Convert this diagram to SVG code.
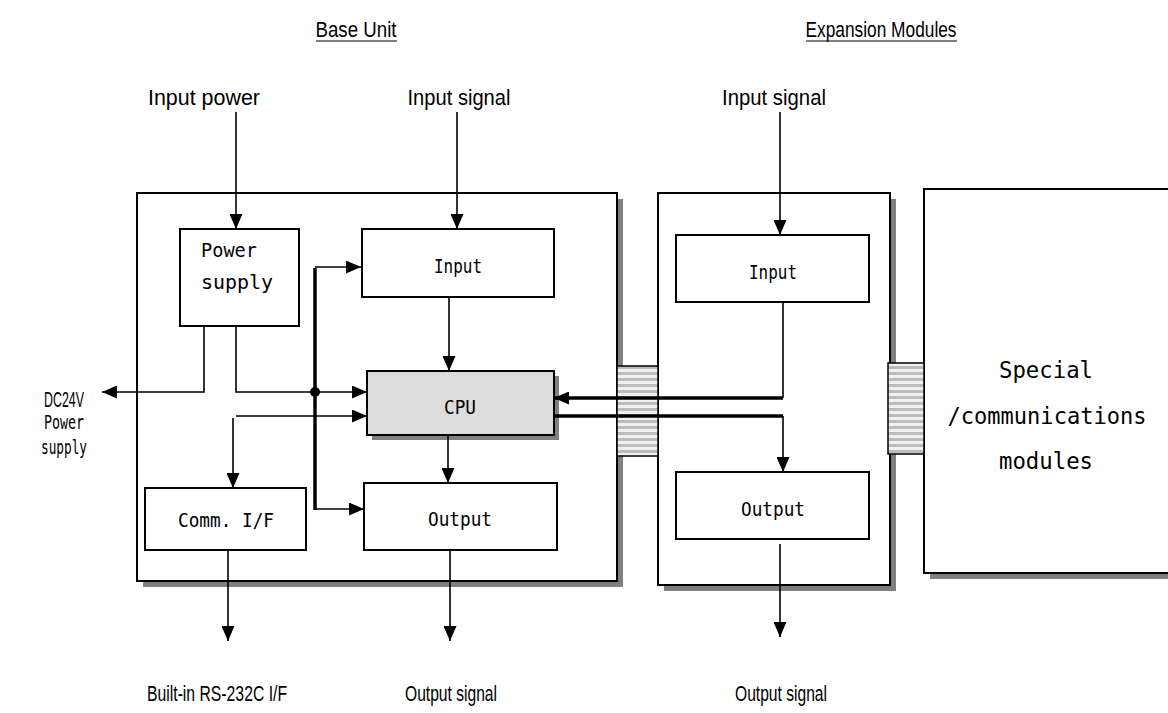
<svg xmlns="http://www.w3.org/2000/svg" width="1168" height="713" viewBox="0 0 1168 713">
<style>
.box{fill:#fff;stroke:#000;stroke-width:2}
.shadow{fill:#808080}
.ln{fill:none;stroke:#000;stroke-width:1.6}
.thick{fill:none;stroke:#000;stroke-width:3.5}
.lbl{font-family:"Liberation Sans Narrow","Liberation Sans",Arial,sans-serif;font-size:22px;fill:#000}
.mono{font-family:"DejaVu Sans Mono","Liberation Mono",monospace;font-size:20px;fill:#000;font-weight:300}
.big{font-family:"DejaVu Sans Mono","Liberation Mono",monospace;font-size:23px;fill:#000}
</style>
<defs>
<marker id="ah" markerUnits="userSpaceOnUse" markerWidth="15" markerHeight="13" viewBox="0 0 15 13" refX="15" refY="6.5" orient="auto"><path d="M0,0 L15,6.5 L0,13 z" fill="#000"/></marker>
<pattern id="hatch" patternUnits="userSpaceOnUse" width="10" height="6"><rect width="10" height="6" fill="#f0f0f0"/><rect y="0" width="10" height="3" fill="#bcbcbc"/></pattern>
</defs>
<rect width="1168" height="713" fill="#fff"/>

<g id="titles">
<text class="lbl" x="356" y="37" text-anchor="middle" font-size="20" textLength="81" lengthAdjust="spacingAndGlyphs">Base Unit</text>
<line x1="316" y1="41" x2="397" y2="41" stroke="#000" stroke-width="1.2"/>
<text class="lbl" x="881" y="37" text-anchor="middle" font-size="20" textLength="151" lengthAdjust="spacingAndGlyphs">Expansion Modules</text>
<line x1="806" y1="41" x2="957" y2="41" stroke="#000" stroke-width="1.2"/>
</g>

<g id="base-unit">
<rect class="shadow" x="143" y="199" width="480" height="388"/>
<rect class="box" x="137" y="193" width="480" height="388"/>
</g>

<g id="expansion-unit">
<rect class="shadow" x="664" y="199" width="232" height="392"/>
<rect class="box" x="658" y="193" width="232" height="392"/>
</g>

<g id="special-modules">
<rect class="shadow" x="930" y="195" width="260" height="384"/>
<rect class="box" x="924" y="189" width="260" height="384"/>
<text class="big" x="1046" y="378" text-anchor="middle" textLength="94" lengthAdjust="spacingAndGlyphs">Special</text>
<text class="big" x="1047" y="424" text-anchor="middle" textLength="199" lengthAdjust="spacingAndGlyphs">/communications</text>
<text class="big" x="1046" y="469" text-anchor="middle" textLength="94" lengthAdjust="spacingAndGlyphs">modules</text>
</g>

<g id="connector-1">
<rect x="617" y="366" width="41" height="90" fill="url(#hatch)" stroke="#000" stroke-width="1.5"/>
</g>
<g id="connector-2">
<rect x="888" y="363" width="36" height="91" fill="url(#hatch)" stroke="#000" stroke-width="1.5"/>
</g>

<g id="power-supply">
<rect class="box" x="180" y="229" width="119" height="97"/>
<text class="mono" x="201" y="257" textLength="56" lengthAdjust="spacingAndGlyphs">Power</text>
<text class="mono" x="201" y="289" textLength="72" lengthAdjust="spacingAndGlyphs">supply</text>
</g>

<g id="input-base">
<rect class="box" x="362" y="229" width="192" height="68"/>
<text class="mono" x="458" y="273" text-anchor="middle" textLength="48" lengthAdjust="spacingAndGlyphs">Input</text>
</g>

<g id="cpu">
<rect class="shadow" x="372" y="376" width="187" height="64"/>
<rect x="367" y="371" width="187" height="64" fill="#dcdcdc" stroke="#000" stroke-width="2"/>
<text class="mono" x="460" y="414" text-anchor="middle" textLength="32" lengthAdjust="spacingAndGlyphs">CPU</text>
</g>

<g id="comm-if">
<rect class="box" x="145" y="488" width="161" height="62"/>
<text class="mono" x="226" y="527" text-anchor="middle" textLength="96" lengthAdjust="spacingAndGlyphs">Comm. I/F</text>
</g>

<g id="output-base">
<rect class="box" x="364" y="483" width="193" height="67"/>
<text class="mono" x="460" y="526" text-anchor="middle" textLength="64" lengthAdjust="spacingAndGlyphs">Output</text>
</g>

<g id="input-exp">
<rect class="box" x="676" y="235" width="193" height="67"/>
<text class="mono" x="773" y="279" text-anchor="middle" textLength="48" lengthAdjust="spacingAndGlyphs">Input</text>
</g>

<g id="output-exp">
<rect class="box" x="676" y="472" width="193" height="67"/>
<text class="mono" x="773" y="516" text-anchor="middle" textLength="64" lengthAdjust="spacingAndGlyphs">Output</text>
</g>

<g id="labels">
<text class="lbl" x="204" y="105" text-anchor="middle" textLength="112" lengthAdjust="spacingAndGlyphs">Input power</text>
<text class="lbl" x="459" y="105" text-anchor="middle" textLength="103" lengthAdjust="spacingAndGlyphs">Input signal</text>
<text class="lbl" x="774" y="105" text-anchor="middle" textLength="104" lengthAdjust="spacingAndGlyphs">Input signal</text>
<text class="lbl" x="64" y="407" text-anchor="middle" font-size="16" textLength="40" lengthAdjust="spacingAndGlyphs">DC24V</text>
<text class="mono" x="64" y="429" text-anchor="middle" font-size="12" textLength="40" lengthAdjust="spacingAndGlyphs">Power</text>
<text class="mono" x="64" y="454" text-anchor="middle" font-size="12" textLength="46" lengthAdjust="spacingAndGlyphs">supply</text>
<text class="lbl" x="217" y="701" text-anchor="middle" textLength="140" lengthAdjust="spacingAndGlyphs">Built-in RS-232C I/F</text>
<text class="lbl" x="451" y="701" text-anchor="middle" textLength="92" lengthAdjust="spacingAndGlyphs">Output signal</text>
<text class="lbl" x="781" y="701" text-anchor="middle" textLength="92" lengthAdjust="spacingAndGlyphs">Output signal</text>
</g>

<g id="connectors">
<line class="ln" x1="236" y1="112" x2="236" y2="229" marker-end="url(#ah)"/>
<line class="ln" x1="457" y1="112" x2="457" y2="229" marker-end="url(#ah)"/>
<line class="ln" x1="780" y1="112" x2="780" y2="235" marker-end="url(#ah)"/>
<line class="ln" x1="449" y1="297" x2="449" y2="371" marker-end="url(#ah)"/>
<line class="ln" x1="448" y1="435" x2="448" y2="483" marker-end="url(#ah)"/>
<polyline class="ln" points="204,326 204,392 102,392" marker-end="url(#ah)"/>
<polyline class="ln" points="236,326 236,392 367,392" marker-end="url(#ah)"/>
<line class="ln" x1="236" y1="416" x2="367" y2="416" marker-end="url(#ah)"/>
<line class="ln" x1="233" y1="418" x2="233" y2="488" marker-end="url(#ah)"/>
<line class="thick" x1="315" y1="268" x2="315" y2="510"/>
<line class="ln" x1="315" y1="267" x2="361" y2="267" marker-end="url(#ah)"/>
<line class="ln" x1="315" y1="509" x2="364" y2="509" marker-end="url(#ah)"/>
<circle cx="315" cy="392" r="5" fill="#000"/>
<line class="ln" x1="228" y1="550" x2="228" y2="641" marker-end="url(#ah)"/>
<line class="ln" x1="450" y1="550" x2="450" y2="641" marker-end="url(#ah)"/>
<line class="ln" x1="783" y1="302" x2="783" y2="398"/>
<polyline class="thick" points="783,398 554,398" marker-end="url(#ah)"/>
<polyline class="thick" points="554,416 783,416"/>
<line class="ln" x1="783" y1="416" x2="783" y2="472" marker-end="url(#ah)"/>
<line class="ln" x1="780" y1="544" x2="780" y2="637" marker-end="url(#ah)"/>
</g>
</svg>
